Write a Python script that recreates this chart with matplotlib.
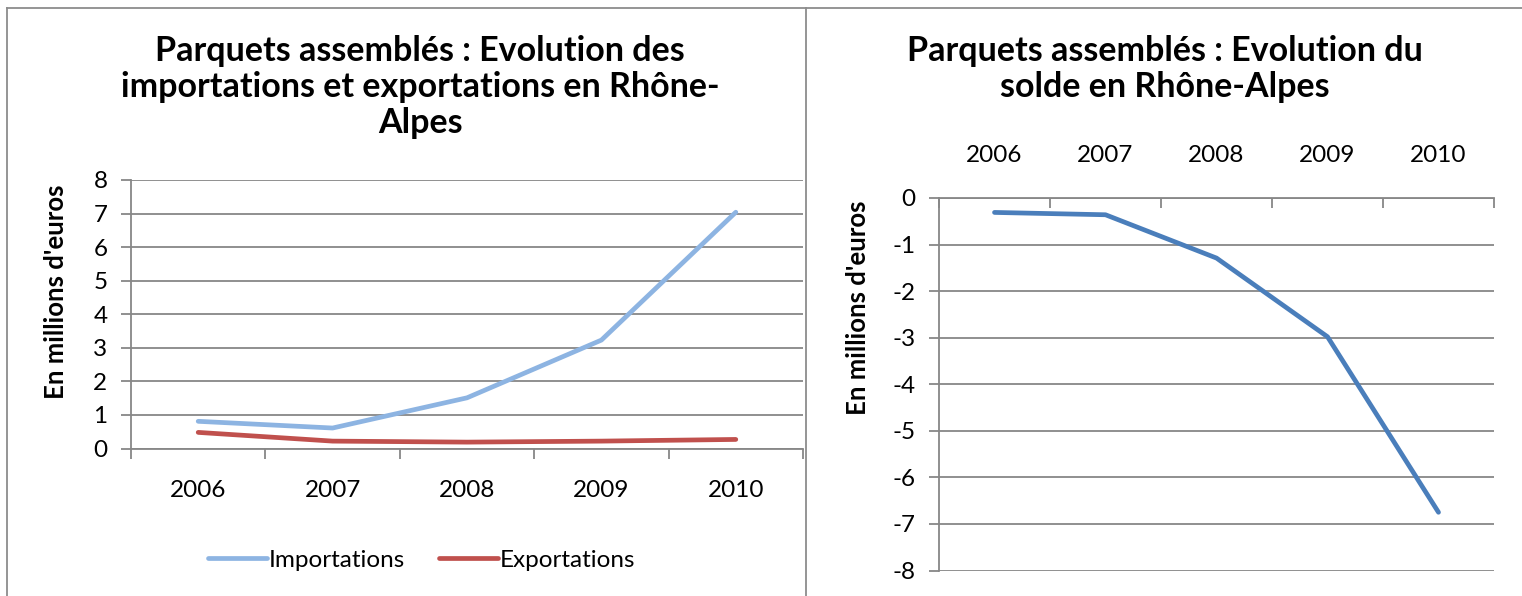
import matplotlib
matplotlib.use("Agg")
import matplotlib.pyplot as plt
from matplotlib.lines import Line2D

years = ["2006", "2007", "2008", "2009", "2010"]
importations = [0.81, 0.61, 1.51, 3.23, 7.04]
exportations = [0.48, 0.22, 0.19, 0.22, 0.27]
solde = [-0.31, -0.36, -1.29, -2.98, -6.75]

title_left = "Parquets assemblés : Evolution des\nimportations et exportations en Rhône-\nAlpes"
title_right = "Parquets assemblés : Evolution du\nsolde en Rhône-Alpes"
ylabel = "En millions d'euros"

plt.rcParams['font.family'] = ['Lato', 'DejaVu Sans']
plt.rcParams['axes.unicode_minus'] = False

W, H = 1522, 596
DPI = 100
fig = plt.figure(figsize=(W / DPI, H / DPI), dpi=DPI)
fig.patch.set_facecolor("white")

GRID = "#878787"
TICK_FS = 17.5
LW = 3.4
TITLE_FS = 24.5
YLAB_FS = 18.5


def fx(px):
    return px / W


def fy(py):
    return 1 - py / H


# panel borders
border_kw = dict(color="#8c8c8c", lw=1.3, transform=fig.transFigure)
fig.add_artist(Line2D([fx(7), 1.0], [fy(8), fy(8)], **border_kw))
fig.add_artist(Line2D([fx(7), fx(7)], [fy(8), 0], **border_kw))
fig.add_artist(Line2D([fx(806), fx(806)], [fy(8), 0], **border_kw))

x = list(range(len(years)))

# ---------- left chart ----------
axL = fig.add_axes([fx(131), fy(448.5), fx(803) - fx(131), (448.5 - 180) / H])
axL.plot(x, importations, color="#8DB4E2", lw=LW, solid_capstyle="round", label="Importations")
axL.plot(x, exportations, color="#C0504D", lw=LW, solid_capstyle="round", label="Exportations")
axL.set_xlim(-0.5, 4.5)
axL.set_ylim(0, 8)
axL.set_yticks(range(0, 9))
axL.grid(axis="y", color=GRID, lw=1.3)
axL.set_axisbelow(True)
for s in ["top", "right"]:
    axL.spines[s].set_visible(False)
for s in ["left", "bottom"]:
    axL.spines[s].set_color(GRID)
    axL.spines[s].set_linewidth(1.3)
axL.set_xticks(x)
axL.set_xticklabels(years)
axL.set_xticks([i - 0.5 for i in range(6)], minor=True)
axL.tick_params(axis="x", which="major", length=0, pad=23, labelsize=TICK_FS)
axL.tick_params(axis="x", which="minor", length=7, width=1.3, color=GRID, direction="out")
axL.tick_params(axis="y", length=7, width=1.3, color=GRID, direction="out", pad=10, labelsize=TICK_FS)
axL.set_ylabel(ylabel, fontsize=YLAB_FS, fontweight="bold")
axL.yaxis.set_label_coords((68 - 131) / 672, (448.5 - 292) / 268.5)
fig.text(fx(420), fy(87), title_left, ha="center", va="center", fontsize=TITLE_FS,
         fontweight="bold", linespacing=1.15)
fig.legend(handles=axL.get_lines(), loc="center", bbox_to_anchor=(fx(422), fy(560)),
           ncol=2, frameon=False, fontsize=TICK_FS, handlelength=2.4,
           handletextpad=0.1, columnspacing=1.4)

# ---------- right chart ----------
axR = fig.add_axes([fx(939), fy(570.5), fx(1494) - fx(939), (570.5 - 198) / H])
axR.plot(x, solde, color="#4A7EBB", lw=LW, solid_capstyle="round")
axR.set_xlim(-0.5, 4.5)
axR.set_ylim(-8, 0)
axR.set_yticks(range(-8, 1))
axR.grid(axis="y", color=GRID, lw=1.3)
axR.set_axisbelow(True)
for s in ["bottom", "right"]:
    axR.spines[s].set_visible(False)
for s in ["left", "top"]:
    axR.spines[s].set_color(GRID)
    axR.spines[s].set_linewidth(1.3)
axR.xaxis.tick_top()
axR.set_xticks(x)
axR.set_xticklabels(years)
axR.set_xticks([i - 0.5 for i in range(6)], minor=True)
axR.tick_params(axis="x", which="major", length=0, pad=23, labelsize=TICK_FS,
                top=True, bottom=False, labeltop=True, labelbottom=False)
axR.tick_params(axis="x", which="minor", length=7, width=1.3, color=GRID, direction="in",
                top=True, bottom=False)
axR.tick_params(axis="y", length=7, width=1.3, color=GRID, direction="out", pad=10, labelsize=TICK_FS)
axR.set_ylabel(ylabel, fontsize=YLAB_FS, fontweight="bold")
axR.yaxis.set_label_coords((870 - 939) / 555, (570.5 - 308) / 372.5)
fig.text(fx(1165), fy(69), title_right, ha="center", va="center", fontsize=TITLE_FS,
         fontweight="bold", linespacing=1.15)

fig.savefig("out.png", dpi=DPI, facecolor="white")
